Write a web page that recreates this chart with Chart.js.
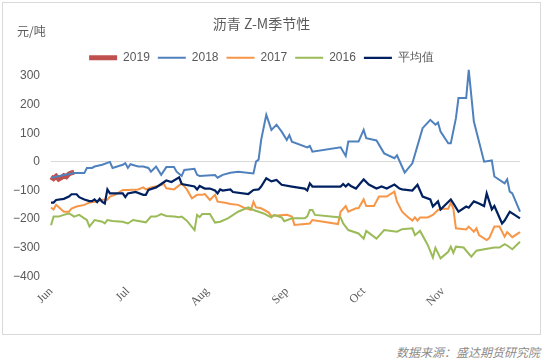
<!DOCTYPE html>
<html>
<head>
<meta charset="utf-8">
<script src="https://cdn.jsdelivr.net/npm/chart.js@4/dist/chart.umd.min.js"></script>
<style>
  body { margin: 0; background: #fff; width: 545px; height: 363px; position: relative; overflow: hidden; }
  #box { position: absolute; left: 2px; top: 2px; width: 537px; height: 331px; border: 1px solid #d9d9d9; }
  #unit { position: absolute; left: 14px; top: 19px; font: 12px "Noto Sans CJK SC", sans-serif; color: #595959; }
  #source { position: absolute; right: 5px; top: 343px; font: italic 12px "Noto Sans CJK SC", sans-serif; color: #8c8c8c; }
</style>
</head>
<body>
<div id="box">
  <canvas id="chart" width="537" height="331"></canvas>
  <div id="unit">元/吨</div>
</div>
<div id="source">数据来源：盛达期货研究院</div>
<script>
// x = days counted from 1 June
const monthDays = [0, 30, 61, 92, 122, 153];
const monthLabels = ['Jun', 'Jul', 'Aug', 'Sep', 'Oct', 'Nov'];

const days2019 = [0, 1, 2, 3, 4, 5, 6, 7, 8, 9];
const vals2019 = [-52, -58, -50, -60, -55, -48, -52, -42, -38, -36];

const days2018 = [0,9,13,14,16,17,20,23,24,28,29,30,31,34,36,38,39,41,43,45,48,49,51,52,56,57,58,64,65,67,70,73,79,80,81,82,84,86,88,90,92,93,94,100,101,102,113,115,116,120,122,123,127,130,134,135,138,141,145,148,150,151,152,155,156,158,159,162,163,165,169,172,173,177,178,179,180,183];
const vals2018 = [-55,-39,-39,-21,-21,-16,-10,0,-21,-10,-4,-21,-8,-16,-16,-21,-34,-16,-45,-18,-18,-34,-49,-28,-24,-45,-49,-46,-55,-45,-38,-34,-40,1,8,77,165,112,130,106,77,94,71,51,56,36,51,21,71,71,112,83,75,30,13,23,-37,-5,118,147,130,138,106,65,65,153,223,223,322,141,1,5,-51,-75,-61,-104,-110,-174];

const days2017 = [0,1,2,5,7,8,10,13,15,18,20,22,23,25,28,30,34,36,37,39,42,44,45,48,51,53,55,57,59,60,62,64,65,68,70,73,75,78,79,80,82,85,86,92,94,95,101,102,112,113,115,116,119,120,122,123,126,128,131,134,135,137,139,141,142,143,144,147,149,151,153,155,156,157,158,162,163,165,166,167,170,171,173,175,177,178,180,183];
const vals2017 = [-159,-166,-150,-174,-174,-163,-156,-150,-142,-138,-132,-132,-121,-115,-98,-98,-96,-89,-96,-89,-83,-77,-92,-96,-75,-96,-127,-115,-115,-112,-133,-115,-139,-143,-147,-150,-159,-168,-139,-159,-162,-177,-189,-185,-191,-220,-215,-203,-217,-174,-154,-174,-162,-162,-131,-154,-154,-121,-121,-104,-139,-174,-191,-205,-194,-205,-194,-194,-185,-168,-164,-164,-142,-164,-232,-236,-226,-244,-232,-256,-273,-266,-226,-226,-261,-245,-263,-245];

const days2016 = [0,1,3,5,7,8,9,11,13,14,15,17,20,21,22,24,28,30,32,37,39,41,43,45,48,50,51,53,56,57,58,59,62,64,66,69,73,77,79,81,83,86,87,90,91,94,99,100,101,102,103,113,114,116,120,122,123,127,130,135,137,141,142,144,147,149,150,152,155,156,157,158,161,164,166,169,173,175,177,178,180,183];
const vals2016 = [-221,-191,-191,-185,-180,-185,-191,-185,-197,-203,-226,-203,-209,-215,-203,-206,-209,-215,-203,-211,-191,-191,-182,-189,-191,-193,-191,-205,-238,-185,-193,-182,-182,-212,-209,-197,-174,-159,-168,-174,-180,-194,-185,-194,-207,-197,-197,-190,-168,-168,-185,-194,-215,-238,-250,-268,-241,-268,-238,-244,-235,-232,-256,-241,-290,-334,-300,-337,-314,-296,-318,-296,-299,-331,-310,-305,-299,-299,-287,-292,-305,-279];

const daysAvg = [0,1,2,5,7,8,10,11,13,15,16,17,18,19,20,21,22,23,28,29,30,33,36,37,38,41,43,45,47,50,51,56,57,58,60,62,64,65,66,67,70,71,77,79,81,82,84,86,88,90,94,99,100,101,102,113,114,115,116,117,119,122,124,127,129,131,134,136,137,141,143,145,148,149,151,152,156,157,159,162,163,165,167,169,170,172,173,176,177,179,180,183];
const valsAvg = [-142,-142,-133,-129,-121,-113,-113,-123,-131,-137,-137,-131,-140,-129,-140,-145,-96,-110,-110,-123,-110,-105,-115,-115,-98,-89,-77,-65,-70,-54,-77,-86,-96,-84,-93,-93,-100,-110,-96,-100,-96,-105,-112,-98,-96,-86,-57,-68,-63,-80,-86,-93,-100,-75,-86,-86,-77,-86,-77,-84,-93,-61,-79,-93,-86,-93,-79,-93,-96,-100,-80,-121,-131,-156,-138,-166,-131,-145,-174,-156,-160,-138,-145,-154,-110,-166,-154,-215,-205,-174,-180,-197];

const yTicks = [300, 200, 100, 0, -100, -200, -300, -400];

function pts(xs, ys) {
    return xs.map((d, i) => ({ x: d, y: ys[i] }));
}

function series(label, xs, ys, color, width, order) {
    return {
        label: label,
        data: pts(xs, ys),
        borderColor: color,
        backgroundColor: color,
        borderWidth: width,
        pointRadius: 0,
        tension: 0,
        clip: false,
        order: order
    };
}

const grey = '#595959';

new Chart(document.getElementById('chart'), {
    type: 'line',
    data: {
        datasets: [
            series('2019', days2019, vals2019, '#C0504D', 5, 5),
            series('2018', days2018, vals2018, '#4F81BD', 2, 4),
            series('2017', days2017, vals2017, '#F79646', 2, 3),
            series('2016', days2016, vals2016, '#9BBB59', 2, 2),
            series('平均值', daysAvg, valsAvg, '#002060', 2.2, 1)
        ]
    },
    options: {
        responsive: false,
        animation: false,
        devicePixelRatio: 1,
        layout: { padding: { left: 0, right: 20, top: 0, bottom: 0 } },
        plugins: {
            title: {
                display: true,
                text: '沥青 Z-M季节性',
                color: grey,
                font: { family: '"Noto Sans CJK SC", sans-serif', size: 14, weight: 'normal' },
                padding: { top: 12, bottom: 12 }
            },
            legend: {
                display: true,
                labels: {
                    usePointStyle: true,
                    pointStyleWidth: 28,
                    padding: 8,
                    color: grey,
                    font: { family: '"Liberation Sans", Arial, sans-serif', size: 12 },
                    sort: (a, b) => a.datasetIndex - b.datasetIndex,
                    generateLabels: (chart) => chart.data.datasets.map((ds, i) => ({
                        text: ds.label,
                        strokeStyle: ds.borderColor,
                        fillStyle: ds.borderColor,
                        lineWidth: ds.borderWidth,
                        pointStyle: 'line',
                        datasetIndex: i,
                        fontColor: grey
                    }))
                }
            },
            tooltip: { enabled: false }
        },
        scales: {
            x: {
                type: 'linear',
                min: 0,
                max: 183,
                afterBuildTicks: (axis) => { axis.ticks = monthDays.map(v => ({ value: v })); },
                afterFit: (axis) => { axis.height = 57.6; },
                grid: { display: false, drawTicks: false },
                border: { display: false },
                ticks: {
                    minRotation: 45,
                    maxRotation: 45,
                    padding: 8,
                    color: grey,
                    font: { family: '"Liberation Serif", serif', size: 12 },
                    callback: (v) => monthLabels[monthDays.indexOf(v)]
                }
            },
            y: {
                min: -400,
                max: 308,
                afterBuildTicks: (axis) => { axis.ticks = yTicks.map(v => ({ value: v })); },
                afterFit: (axis) => { axis.width = 48; },
                grid: {
                    drawTicks: false,
                    color: (ctx) => ctx.tick && ctx.tick.value === 0 ? '#d9d9d9' : 'rgba(0,0,0,0)'
                },
                border: { display: false },
                ticks: {
                    padding: 11,
                    color: grey,
                    font: { family: '"Liberation Sans", Arial, sans-serif', size: 12 },
                    callback: (v) => String(v).replace('-', '\u2212')
                }
            }
        }
    }
});
</script>
</body>
</html>
